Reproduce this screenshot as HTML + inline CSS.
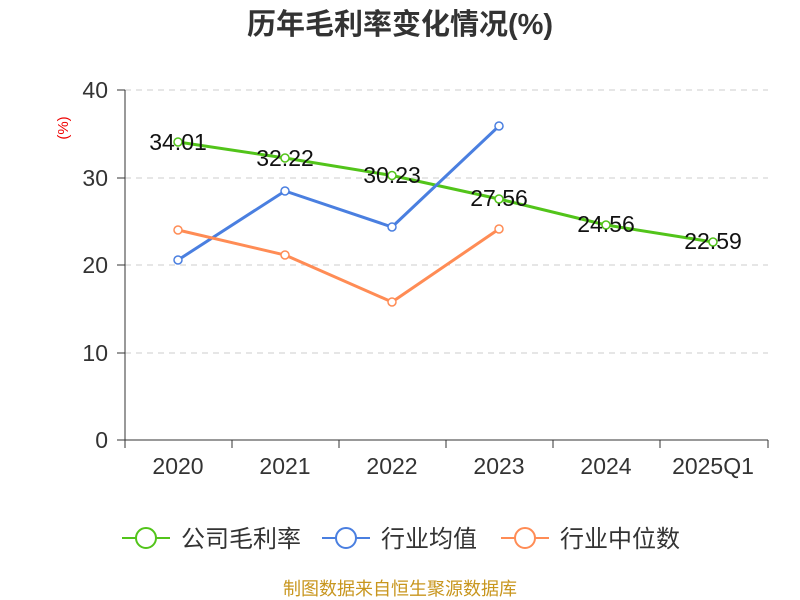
<!DOCTYPE html>
<html><head><meta charset="utf-8"><style>
body{margin:0;background:#fff;}
svg{display:block;font-family:"Liberation Sans","Noto Sans CJK SC",sans-serif;}
</style></head><body>
<svg width="800" height="600" xmlns="http://www.w3.org/2000/svg">
<text x="400" y="34" text-anchor="middle" font-size="29" font-weight="bold" fill="#333">历年毛利率变化情况(%)</text>
<text x="68" y="128" font-size="15" fill="#e00" transform="rotate(-90 68 128)" text-anchor="middle">(%)</text>
<g stroke="#ccc" stroke-dasharray="6,5" stroke-width="1">
<line x1="125" y1="90" x2="768" y2="90"/><line x1="125" y1="178" x2="768" y2="178"/>
<line x1="125" y1="265" x2="768" y2="265"/><line x1="125" y1="353" x2="768" y2="353"/>
</g>
<g stroke="#333" stroke-width="1">
<line x1="125" y1="90" x2="125" y2="440"/><line x1="125" y1="440" x2="768" y2="440"/>
<line x1="117" y1="90" x2="125" y2="90"/><line x1="117" y1="178" x2="125" y2="178"/><line x1="117" y1="265" x2="125" y2="265"/><line x1="117" y1="353" x2="125" y2="353"/><line x1="117" y1="440" x2="125" y2="440"/>
<line x1="125" y1="440" x2="125" y2="448"/><line x1="232" y1="440" x2="232" y2="448"/><line x1="339" y1="440" x2="339" y2="448"/><line x1="446" y1="440" x2="446" y2="448"/><line x1="553" y1="440" x2="553" y2="448"/><line x1="660" y1="440" x2="660" y2="448"/><line x1="768" y1="440" x2="768" y2="448"/>
</g>
<g font-size="23" fill="#333" text-anchor="end">
<text x="108" y="98">40</text><text x="108" y="186">30</text><text x="108" y="273">20</text><text x="108" y="361">10</text><text x="108" y="448">0</text>
</g>
<g font-size="23" fill="#333" text-anchor="middle">
<text x="178" y="474">2020</text><text x="285" y="474">2021</text><text x="392" y="474">2022</text><text x="499" y="474">2023</text><text x="606" y="474">2024</text><text x="713" y="474">2025Q1</text>
</g>
<polyline fill="none" stroke="#52c41a" stroke-width="3" points="178,142 285,158 392,175.5 499,199 606,225 713,242"/>
<polyline fill="none" stroke="#4a7fe0" stroke-width="3" points="178,260 285,191 392,227 499,126"/>
<polyline fill="none" stroke="#ff8c55" stroke-width="3" points="178,230 285,255 392,302 499,229"/>
<g fill="#fff" stroke-width="1.5">
<g stroke="#52c41a"><circle cx="178" cy="142" r="4"/><circle cx="285" cy="158" r="4"/><circle cx="392" cy="175.5" r="4"/><circle cx="499" cy="199" r="4"/><circle cx="606" cy="225" r="4"/><circle cx="713" cy="242" r="4"/></g>
<g stroke="#4a7fe0"><circle cx="178" cy="260" r="4"/><circle cx="285" cy="191" r="4"/><circle cx="392" cy="227" r="4"/><circle cx="499" cy="126" r="4"/></g>
<g stroke="#ff8c55"><circle cx="178" cy="230" r="4"/><circle cx="285" cy="255" r="4"/><circle cx="392" cy="302" r="4"/><circle cx="499" cy="229" r="4"/></g>
</g>
<g font-size="23" fill="#111" text-anchor="middle">
<text x="178" y="150">34.01</text><text x="285" y="166">32.22</text><text x="392" y="183">30.23</text><text x="499" y="206">27.56</text><text x="606" y="232">24.56</text><text x="713" y="249">22.59</text>
</g>
<g stroke-width="2" fill="#fff">
<line x1="122" y1="538" x2="170" y2="538" stroke="#52c41a"/><circle cx="146" cy="538" r="10" stroke="#52c41a"/>
<line x1="322" y1="538" x2="370" y2="538" stroke="#4a7fe0"/><circle cx="346" cy="538" r="10" stroke="#4a7fe0"/>
<line x1="501" y1="538" x2="549" y2="538" stroke="#ff8c55"/><circle cx="525" cy="538" r="10" stroke="#ff8c55"/>
</g>
<g font-size="24" fill="#333">
<text x="181" y="547">公司毛利率</text><text x="381" y="547">行业均值</text><text x="560" y="547">行业中位数</text>
</g>
<text x="400" y="595" text-anchor="middle" font-size="18" fill="#c8961e">制图数据来自恒生聚源数据库</text>
</svg>
</body></html>
